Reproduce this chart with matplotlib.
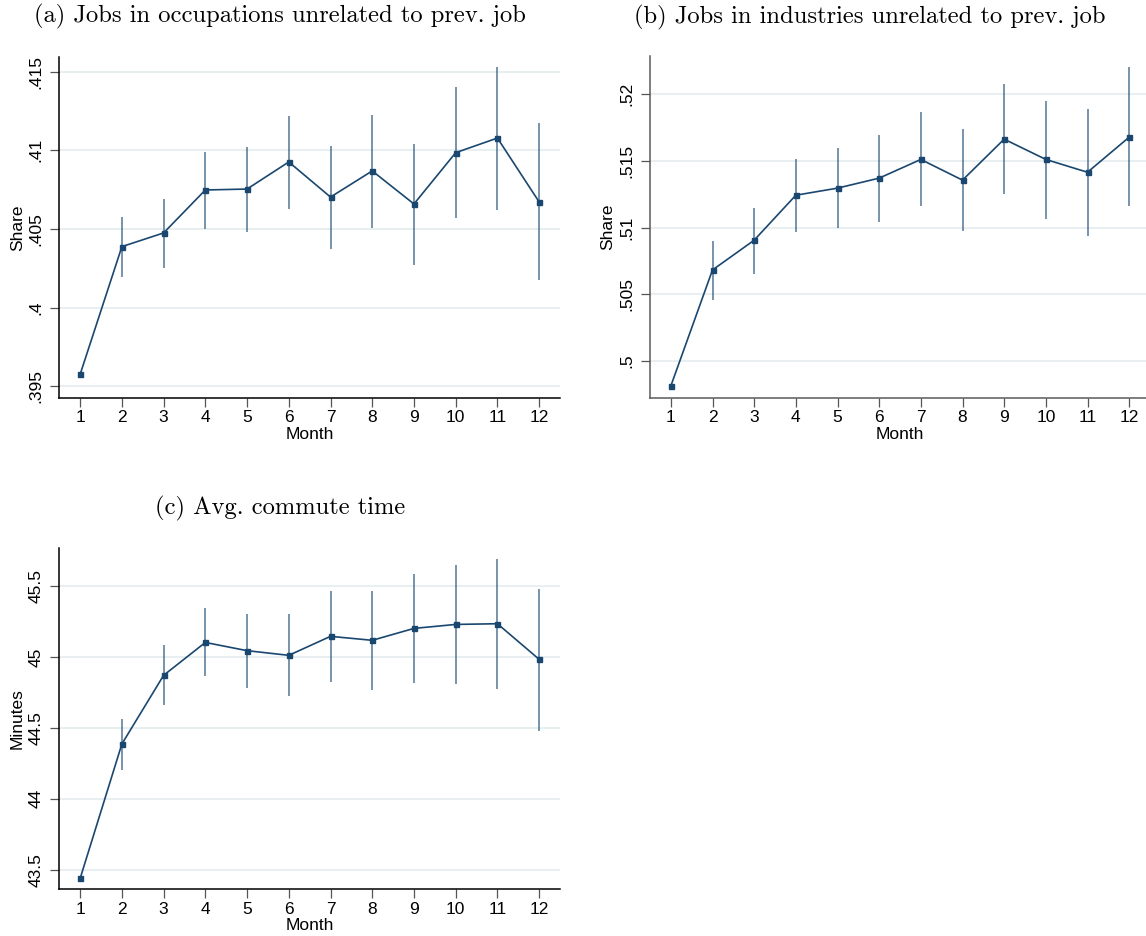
import numpy as np
import matplotlib
matplotlib.use("Agg")
import matplotlib.pyplot as plt

months = np.arange(1, 13)

# Panel (a): occupations unrelated to previous job
a_mean = [.39577, .40388, .40475, .40748, .40754, .40926, .40703, .40869, .40659, .40985, .41078, .40672]
a_lo = [np.nan, .40195, .40254, .40500, .40481, .40627, .40375, .40506, .40273, .40568, .40623, .40174]
a_hi = [np.nan, .40578, .40693, .40989, .41023, .41220, .41025, .41227, .41042, .41403, .41532, .41176]
a_ticks = [.395, .4, .405, .41, .415]
a_ticklabels = ['.395', '.4', '.405', '.41', '.415']

# Panel (b): industries unrelated to previous job
b_mean = [.49813, .50682, .50905, .51242, .51295, .51370, .51510, .51355, .51662, .51510, .51414, .51677]
b_lo = [np.nan, .50460, .50652, .50968, .50998, .51042, .51162, .50973, .51252, .51067, .50933, .51160]
b_hi = [np.nan, .50897, .51147, .51514, .51592, .51694, .51865, .51737, .52074, .51951, .51891, .52204]
b_ticks = [.5, .505, .51, .515, .52]
b_ticklabels = ['.5', '.505', '.51', '.515', '.52']

# Panel (c): average commute time
c_mean = [43.439, 44.387, 44.871, 45.103, 45.045, 45.012, 45.146, 45.118, 45.202, 45.230, 45.235, 44.984]
c_lo = [np.nan, 44.204, 44.662, 44.866, 44.784, 44.725, 44.826, 44.767, 44.817, 44.810, 44.777, 44.479]
c_hi = [np.nan, 44.563, 45.085, 45.348, 45.306, 45.301, 45.463, 45.463, 45.587, 45.650, 45.693, 45.480]
c_ticks = [43.5, 44, 44.5, 45, 45.5]
c_ticklabels = ['43.5', '44', '44.5', '45', '45.5']

titles = ["(a) Jobs in occupations unrelated to prev. job",
          "(b) Jobs in industries unrelated to prev. job",
          "(c) Avg. commute time"]
ylabels = ["Share", "Share", "Minutes"]
xlabel = "Month"

W, H = 1146, 936
fig = plt.figure(figsize=(W / 100, H / 100), dpi=100)
fig.patch.set_facecolor("white")

NAVY = "#1a476f"
GRID = "#e6eef0"
SANS = "Liberation Sans"
FS = 12.5


def make_ax(left, top, right, bottom):
    return fig.add_axes([left / W, 1 - bottom / H, (right - left) / W, (bottom - top) / H])


def draw(ax, mean, lo, hi, ticks, ticklabels, ylim, ylabel, spine_color):
    ax.set_facecolor("white")
    for t in ticks:
        ax.axhline(t, color=GRID, lw=1.3, zorder=0)
    ax.vlines(months, lo, hi, color=NAVY, lw=1.1, alpha=0.75, zorder=2)
    ax.plot(months, mean, color=NAVY, lw=1.2, marker="s", ms=3.6,
            markerfacecolor=NAVY, markeredgecolor=NAVY, zorder=3)
    ax.set_xlim(0.5, 12.5)
    ax.set_ylim(*ylim)
    ax.set_xticks(months)
    ax.set_xticklabels([str(m) for m in months], fontfamily=SANS, fontsize=FS)
    ax.set_yticks(ticks)
    ax.set_yticklabels(ticklabels, fontfamily=SANS, fontsize=FS, rotation=90,
                       va="center", ha="center")
    ax.tick_params(axis="y", length=6.5, width=0.9, color="#555555", pad=10.5)
    ax.tick_params(axis="x", length=6.5, width=0.9, color="#555555", pad=2.5)
    for s in ["top", "right"]:
        ax.spines[s].set_visible(False)
    for s in ["left", "bottom"]:
        ax.spines[s].set_color(spine_color)
        ax.spines[s].set_linewidth(1.1)
    ax.set_xlabel(xlabel, fontfamily=SANS, fontsize=FS)
    ax.set_ylabel(ylabel, fontfamily=SANS, fontsize=FS)
    ax.xaxis.set_label_coords(0.5, -0.108)
    ax.yaxis.set_label_coords(-0.084, 0.5)
    ax.xaxis.label.set_va("center")
    ax.yaxis.label.set_va("center")


ax_a = make_ax(59.3, 56.7, 560, 398)
draw(ax_a, a_mean, a_lo, a_hi, a_ticks, a_ticklabels, (.39426, .41595), ylabels[0], "black")

ax_b = make_ax(650, 56, 1150, 397.7)
draw(ax_b, b_mean, b_lo, b_hi, b_ticks, b_ticklabels, (.49725, .52285), ylabels[1], "#5a5a5a")

ax_c = make_ax(59.3, 548.3, 560, 889)
draw(ax_c, c_mean, c_lo, c_hi, c_ticks, c_ticklabels, (43.364, 45.767), ylabels[2], "black")

TITLE_FONT = dict(fontfamily="cmr10", fontsize=17.7, ha="center", va="center")
fig.text(280 / W, 1 - 16.5 / H, titles[0], **TITLE_FONT)
fig.text(870 / W, 1 - 17.5 / H, titles[1], **TITLE_FONT)
fig.text(280 / W, 1 - 508 / H, titles[2], **TITLE_FONT)

fig.savefig("out.png", dpi=100, facecolor="white")
